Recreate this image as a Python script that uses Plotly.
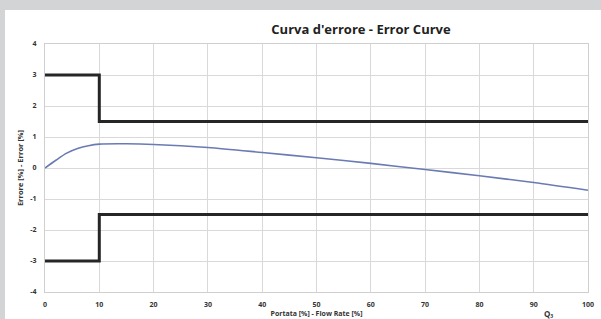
import plotly.graph_objects as go

# Data
flow_rate = [0, 2, 4, 6, 8, 10, 15, 20, 30, 40, 50, 60, 70, 80, 90, 100]
error_curve = [0.0, 0.25, 0.48, 0.63, 0.72, 0.77, 0.78, 0.76, 0.66, 0.50, 0.33, 0.15, -0.05, -0.25, -0.47, -0.72]

limit_x = [0, 10, 10, 100]
upper_limit = [3, 3, 1.5, 1.5]
lower_limit = [-3, -3, -1.5, -1.5]

x_ticks = [0, 10, 20, 30, 40, 50, 60, 70, 80, 90, 100]
y_ticks = [-4, -3, -2, -1, 0, 1, 2, 3, 4]

fig = go.Figure()
fig.add_trace(go.Scatter(x=limit_x, y=upper_limit, mode="lines",
                         line=dict(color="#262626", width=3), hoverinfo="skip"))
fig.add_trace(go.Scatter(x=limit_x, y=lower_limit, mode="lines",
                         line=dict(color="#262626", width=3), hoverinfo="skip"))
fig.add_trace(go.Scatter(x=flow_rate, y=error_curve, mode="lines",
                         line=dict(color="#6a7bb3", width=1.6, shape="spline", smoothing=0.8)))

W, H = 601, 319
ml, mr, mt, mb = 45, 13, 44, 27
pw, ph = W - ml - mr, H - mt - mb

def px_x(p):
    return (p - ml) / pw

def px_y(p):
    return (H - mb - p) / ph

fig.add_shape(type="rect", xref="paper", yref="paper",
              x0=px_x(5), x1=px_x(620), y0=px_y(330), y1=px_y(10),
              fillcolor="white", line=dict(width=0), layer="below")

tick_font = dict(family="Open Sans", size=7, color="#333333", weight="bold")

fig.update_layout(
    width=W, height=H,
    margin=dict(l=ml, r=mr, t=mt, b=mb, autoexpand=False),
    paper_bgcolor="#d3d4d6",
    plot_bgcolor="white",
    showlegend=False,
    title=dict(text="Curva d'errore - Error Curve", x=361 / W,
               xanchor="center", y=1 - 29 / H, yanchor="middle", automargin=False,
               font=dict(family="Open Sans", size=13, color="#222222", weight="bold")),
    xaxis=dict(range=[0, 100], tickvals=x_ticks, ticktext=[str(v) for v in x_ticks],
               showgrid=True, gridcolor="#d9d9d9", gridwidth=1, automargin=False,
               showline=True, linecolor="#cfcfcf", linewidth=1, mirror=True,
               zeroline=False, ticks="", ticklabelstandoff=6, tickfont=tick_font,
               title=dict(text="Portata [%] - Flow Rate [%]", standoff=2,
                          font=dict(family="Open Sans", size=7, color="#333333", weight="bold"))),
    yaxis=dict(range=[-4, 4], tickvals=y_ticks, ticktext=[str(v) for v in y_ticks],
               showgrid=True, gridcolor="#d9d9d9", gridwidth=1, automargin=False,
               showline=True, linecolor="#cfcfcf", linewidth=1, mirror=True,
               zeroline=False, ticks="", ticklabelstandoff=6, tickfont=tick_font,
               title=dict(text="Errore [%] - Error [%]", standoff=5,
                          font=dict(family="Open Sans", size=7.5, color="#333333", weight="bold"))),
)

fig.add_annotation(text="Q₃", xref="paper", yref="paper", x=px_x(548), y=px_y(313),
                   showarrow=False, xanchor="center", yanchor="middle",
                   font=dict(family="Open Sans", size=8, color="#333333", weight="bold"))

fig.write_html("out.html", config={"displayModeBar": False},
               post_script="document.body.style.margin='0px';document.body.style.overflow='hidden';")
